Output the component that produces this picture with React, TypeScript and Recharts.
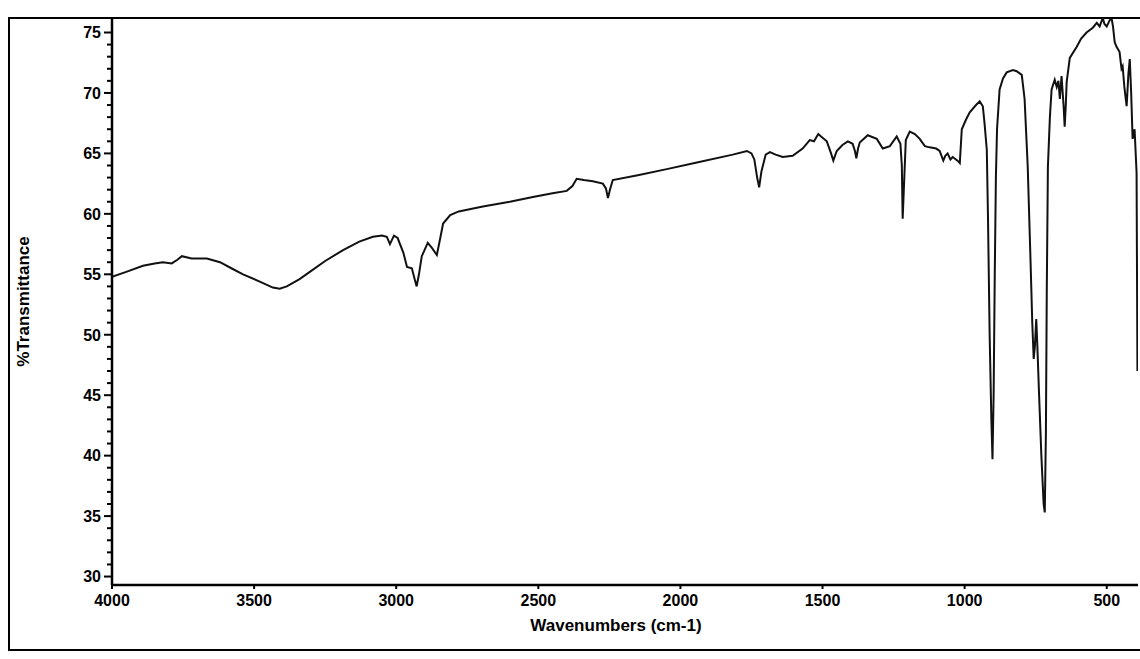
import React from "react";
import { LineChart, Line, XAxis, YAxis } from "recharts";

const wavenumbers: number[] = [
  4000, 3950, 3891, 3850, 3821, 3790, 3770, 3754, 3720, 3666, 3620, 3580, 3539, 3480, 3434, 3410, 3385, 3340, 3304, 3250,
  3187, 3130, 3082, 3050, 3033, 3022, 3008, 2995, 2975, 2962, 2945, 2935, 2928, 2920, 2910, 2889, 2875, 2857, 2845, 2835,
  2810, 2780, 2695, 2600, 2519, 2450, 2400, 2380, 2365, 2340, 2308, 2273, 2262, 2255, 2248, 2238, 2150, 2048, 1950, 1816,
  1766, 1750, 1740, 1730, 1723, 1715, 1700, 1685, 1665, 1640, 1605, 1570, 1545, 1530, 1515, 1505, 1485, 1470, 1462, 1450,
  1430, 1411, 1394, 1386, 1381, 1375, 1369, 1341, 1309, 1288, 1263, 1239, 1226, 1221, 1218, 1214, 1207, 1193, 1175, 1158,
  1140, 1123, 1100, 1088, 1075, 1068, 1060, 1050, 1042, 1025, 1017, 1010, 995, 982, 960, 947, 936, 930, 922, 918,
  912, 906, 902, 898, 894, 890, 886, 877, 865, 852, 830, 817, 799, 789, 778, 768, 762, 757, 753, 748,
  744, 738, 730, 722, 718, 714, 711, 707, 700, 694, 683, 676, 670, 665, 659, 652, 648, 644, 641, 630,
  606, 590, 571, 549, 535, 525, 514, 508, 500, 490, 483, 478, 472, 465, 455, 448, 444, 438, 430, 424,
  419, 414, 409, 402, 395, 392,
];

const transmittance: number[] = [
  54.8, 55.2, 55.7, 55.9, 56.0, 55.9, 56.2, 56.5, 56.3, 56.3, 56.0, 55.5, 55.0, 54.4, 53.9, 53.8, 54.0, 54.6, 55.2, 56.1,
  57.0, 57.7, 58.1, 58.2, 58.1, 57.5, 58.2, 58.0, 56.8, 55.6, 55.5, 54.6, 54.0, 55.0, 56.5, 57.6, 57.2, 56.6, 58.0, 59.2,
  59.9, 60.2, 60.6, 61.0, 61.4, 61.7, 61.9, 62.3, 62.9, 62.8, 62.7, 62.5, 62.1, 61.3, 62.0, 62.8, 63.2, 63.7, 64.2, 64.9,
  65.2, 65.0, 64.5, 63.0, 62.2, 63.5, 64.9, 65.1, 64.9, 64.7, 64.8, 65.4, 66.1, 66.0, 66.6, 66.4, 66.0, 65.0, 64.4, 65.2,
  65.7, 66.0, 65.8, 65.2, 64.6, 65.4, 65.9, 66.5, 66.2, 65.4, 65.6, 66.4, 65.8, 64.0, 59.6, 62.0, 66.1, 66.8, 66.6, 66.2,
  65.6, 65.5, 65.4, 65.2, 64.4, 64.8, 65.0, 64.5, 64.7, 64.4, 64.2, 67.0, 67.8, 68.4, 69.0, 69.3, 68.9, 67.5, 65.3, 60.0,
  50.0, 43.0, 39.7, 45.0, 55.0, 63.0, 67.0, 70.3, 71.2, 71.7, 71.9, 71.8, 71.5, 69.5, 63.9, 56.0, 51.0, 48.0, 49.0, 51.3,
  49.0, 45.0, 40.0, 36.0, 35.3, 42.0, 53.5, 63.9, 68.0, 70.3, 71.1, 70.5, 71.0, 69.5, 71.4, 69.0, 67.2, 69.0, 70.9, 72.9,
  73.8, 74.5, 75.0, 75.4, 75.8, 75.5, 76.2, 75.7, 75.5, 76.0, 76.2, 75.5, 74.2, 73.8, 73.4, 72.0, 72.2, 70.5, 68.9, 71.5,
  72.8, 70.0, 66.2, 67.0, 63.4, 47.0,
];

const xTicks: number[] = [4000, 3500, 3000, 2500, 2000, 1500, 1000, 500];
const yTicks: number[] = [
  30, 31, 32, 33, 34, 35, 36, 37, 38, 39, 40, 41, 42, 43, 44, 45, 46, 47, 48, 49, 50, 51, 52, 53, 54, 55, 56, 57, 58, 59,
  60, 61, 62, 63, 64, 65, 66, 67, 68, 69, 70, 71, 72, 73, 74, 75,
];
const xTitle = "Wavenumbers (cm-1)";
const yTitle = "%Transmittance";

const data = wavenumbers.map((wn, i) => ({ wn, t: transmittance[i] }));

const FONT = "'Liberation Sans', Arial, sans-serif";

const YTick = (props: any) => {
  const { x, y, payload } = props;
  const v = payload.value as number;
  const major = v % 5 === 0;
  return (
    <g>
      <line x1={x - (major ? 8 : 5)} x2={x} y1={y} y2={y} stroke="#000" strokeWidth={2} />
      {major && (
        <text
          x={x - 11}
          y={y}
          dy="0.36em"
          textAnchor="end"
          fontFamily={FONT}
          fontWeight="bold"
          fontSize={16}
          fill="#000"
        >
          {v}
        </text>
      )}
    </g>
  );
};

export default function App() {
  return (
    <div style={{ position: "absolute", left: 0, top: 0, width: 1140, height: 659, background: "#fff" }}>
      <div
        style={{
          position: "absolute",
          left: 8,
          top: 17,
          width: 1140 - 8,
          height: 651 - 17,
          borderLeft: "2px solid #000",
          borderTop: "2px solid #000",
          borderBottom: "2px solid #000",
          boxSizing: "border-box",
        }}
      />
      <div style={{ position: "absolute", left: 0, top: 0 }}>
        <LineChart width={1140} height={659} data={data} margin={{ top: 18, right: 2, bottom: 0, left: 0 }}>
          <XAxis
            dataKey="wn"
            type="number"
            domain={[390, 4000]}
            reversed
            allowDataOverflow
            ticks={xTicks}
            height={74}
            tickSize={4}
            tickMargin={6}
            axisLine={{ stroke: "#000", strokeWidth: 2.5 }}
            tickLine={{ stroke: "#000", strokeWidth: 2 }}
            tick={{ fill: "#000", fontFamily: FONT, fontWeight: "bold", fontSize: 16 }}
            label={(p: any) => {
              const vb = p.viewBox;
              return (
                <text
                  x={vb.x + vb.width / 2 - 9}
                  y={vb.y + 40}
                  dy="0.36em"
                  textAnchor="middle"
                  fontFamily={FONT}
                  fontWeight="bold"
                  fontSize={17}
                  fill="#000"
                >
                  {xTitle}
                </text>
              );
            }}
          />
          <YAxis
            type="number"
            domain={[29.3, 76.2]}
            allowDataOverflow
            ticks={yTicks}
            interval={0}
            width={112}
            tickSize={0}
            tickMargin={0}
            tickLine={false}
            axisLine={{ stroke: "#000", strokeWidth: 2.5 }}
            tick={<YTick />}
            label={(p: any) => {
              const vb = p.viewBox;
              const cx = 23;
              const cy = vb.y + vb.height / 2;
              return (
                <text
                  x={cx}
                  y={cy}
                  dy="0.36em"
                  textAnchor="middle"
                  transform={`rotate(-90 ${cx} ${cy})`}
                  fontFamily={FONT}
                  fontWeight="bold"
                  fontSize={17}
                  fill="#000"
                >
                  {yTitle}
                </text>
              );
            }}
          />
          <Line
            type="linear"
            dataKey="t"
            stroke="#111"
            strokeWidth={2}
            dot={false}
            isAnimationActive={false}
          />
        </LineChart>
      </div>
    </div>
  );
}
